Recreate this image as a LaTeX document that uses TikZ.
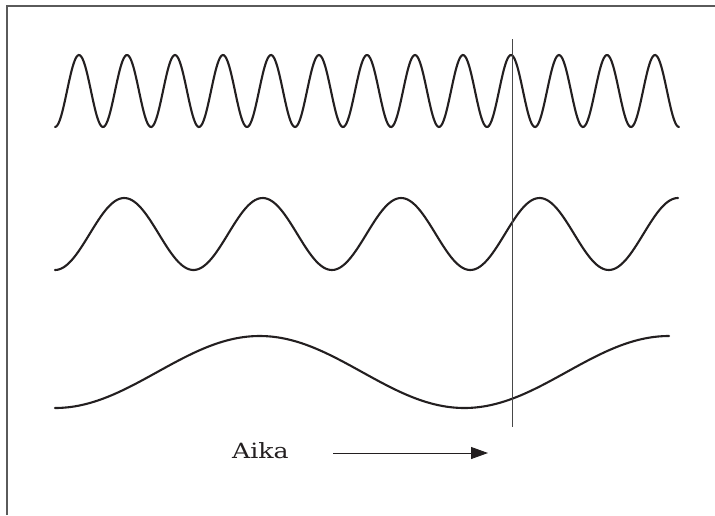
\documentclass[tikz,border=0pt]{standalone}
\usepackage{fontspec}
\newfontfamily\labelfont[FakeStretch=1.2]{DejaVu Serif}
\usetikzlibrary{arrows.meta}
\definecolor{framegray}{HTML}{5A5A5A}
\definecolor{inkblack}{HTML}{231F20}
\tikzset{
  framestyle/.style={draw=framegray, line width=1.3pt},
  wavestyle/.style={draw=inkblack, line width=2.1pt, line cap=round, smooth},
  markerline/.style={draw=framegray!80!black, line width=1pt},
  timearrow/.style={draw=inkblack, line width=1pt, -{Triangle[length=17pt,width=12pt]}},
  labelstyle/.style={inner sep=0pt, text=inkblack, font=\labelfont\fontsize{21}{25}\selectfont}
}
\begin{document}
\begin{tikzpicture}[x=1pt,y=-1pt]
\useasboundingbox (0,0) rectangle (715,515);
% frame (top and left edges)
\coordinate (fbl) at (7,515);
\coordinate (ftl) at (7,6);
\coordinate (ftr) at (715,6);
\draw[framestyle] (fbl) -- (ftl) -- (ftr);
% waves
\draw[wavestyle, domain=55:679, samples=500, variable=\t] plot (\t, {91+36*cos(7.5*(\t-55))});
\draw[wavestyle, domain=55:678, samples=300, variable=\t] plot (\t, {234+36*cos(2.6004*(\t-55))});
\draw[wavestyle, domain=55:669, samples=200, variable=\t] plot (\t, {372+36*cos(0.8795*(\t-55))});
% vertical marker
\coordinate (vtop) at (512,39);
\coordinate (vbot) at (512,427);
\draw[markerline] (vtop) -- (vbot);
% time label and arrow
\node[labelstyle, anchor=base west] (aika) at (232,458) {Aika};
\coordinate (arrs) at (333,453);
\coordinate (arre) at (488,453);
\draw[timearrow] (arrs) -- (arre);
\end{tikzpicture}
\end{document}
